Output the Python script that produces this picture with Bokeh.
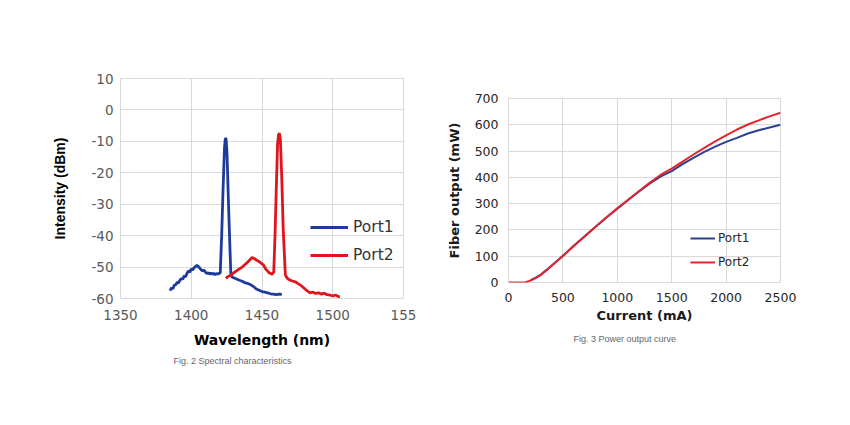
from bokeh.plotting import figure
from bokeh.layouts import row, column
from bokeh.models import Range1d, FixedTicker, Legend, LegendItem, Title
from bokeh.embed import file_html
from bokeh.resources import INLINE

# ---------------- data: spectral characteristics ----------------
p1_wl = [1385, 1386, 1387, 1388, 1389, 1390, 1391, 1392, 1393, 1394, 1395, 1396, 1397, 1398, 1399,
         1400, 1401, 1402, 1403, 1404, 1405, 1406, 1407, 1408, 1409, 1410, 1411, 1412, 1413, 1414,
         1415, 1416, 1417, 1418, 1419, 1420.5, 1421.5, 1422.5, 1423.5, 1424.1, 1424.6, 1425.3, 1426.2,
         1427.2, 1428, 1429, 1430, 1432, 1434, 1436, 1438, 1440, 1442, 1444, 1446, 1448, 1450, 1452,
         1454, 1456, 1458, 1460, 1462, 1464]
p1_db = [-57.5, -56.6, -56.9, -55.8, -55.6, -54.9, -55.0, -54.2, -53.6, -53.9, -52.8, -53.1, -52.0, -51.2, -51.6,
         -50.6, -50.9, -50.2, -49.9, -49.4, -49.8, -50.3, -50.9, -51.2, -51.0, -51.6, -52.1, -51.8, -52.2, -51.9,
         -52.3, -52.0, -52.4, -52.1, -52.2, -51.8, -40.0, -25.0, -12.0, -9.0, -9.2, -14.0, -28.0,
         -42.0, -52.5, -53.2, -53.4, -53.8, -54.2, -54.5, -55.0, -55.2, -55.6, -56.2, -57.0, -57.4, -57.8, -58.0,
         -58.2, -58.5, -58.6, -58.8, -58.6, -58.7]

p2_wl = [1424.5, 1426, 1428, 1430, 1432, 1434, 1436, 1438, 1440, 1442, 1443, 1444, 1445, 1446, 1447,
         1448, 1449, 1450, 1451, 1452, 1453, 1454, 1455, 1456, 1457, 1458.3, 1459.2, 1460.1, 1461, 1461.7,
         1462.3, 1463, 1464, 1465, 1466.5, 1467.5, 1468.5, 1470, 1472, 1474, 1476, 1478, 1480, 1482,
         1484, 1486, 1488, 1490, 1492, 1494, 1496, 1498, 1500, 1502, 1504, 1505]
p2_db = [-53.6, -53.0, -52.6, -51.8, -51.2, -50.6, -50.0, -49.2, -48.4, -47.4, -46.9, -47.2, -47.4, -47.8, -48.0,
         -48.3, -48.6, -49.0, -49.3, -50.2, -50.8, -51.3, -51.8, -52.0, -52.3, -51.6, -40.0, -25.0, -11.0, -7.8,
         -7.4, -9.5, -22.0, -38.0, -52.5, -53.3, -53.8, -54.2, -54.5, -54.8, -55.4, -56.0, -56.8, -57.6,
         -58.2, -58.0, -58.4, -58.2, -58.6, -58.3, -58.8, -58.9, -59.2, -58.9, -59.4, -59.3]

spec_xticks = [1350, 1400, 1450, 1500, 1550]
spec_xlabels = ["1350", "1400", "1450", "1500", "155"]
spec_yticks = [-60, -50, -40, -30, -20, -10, 0, 10]
spec_ylabels = ["-60", "-50", "-40", "-30", "-20", "-10", "0", "10"]

# ---------------- data: power output curve ----------------
cur = [0, 100, 150, 200, 250, 300, 350, 400, 500, 600, 700, 800, 900, 1000, 1100, 1200, 1300, 1400,
       1500, 1600, 1700, 1800, 1900, 2000, 2100, 2200, 2300, 2400, 2500]
port1_mw = [None, None, None, 8, 18, 31, 48, 66, 102, 140, 176, 212, 247, 281, 314, 346, 377, 404,
            424, 450, 474, 497, 517, 535, 550, 567, 579, 590, 600]
port2_mw = [0, 0, 0, 7, 17, 30, 47, 65, 101, 139, 175, 212, 247, 282, 315, 348, 380, 410,
            433, 460, 487, 512, 537, 560, 582, 601, 617, 632, 646]
pw_xticks = [0, 500, 1000, 1500, 2000, 2500]
pw_yticks = [0, 100, 200, 300, 400, 500, 600, 700]

cur1 = [c for c, v in zip(cur, port1_mw) if v is not None]
p1mw = [v for v in port1_mw if v is not None]

GRID = "#d9d9d9"


def style(p):
    p.xgrid.grid_line_color = GRID
    p.ygrid.grid_line_color = GRID
    p.outline_line_color = GRID
    for ax in (p.xaxis[0], p.yaxis[0]):
        ax.axis_line_color = None
        ax.major_tick_line_color = None
        ax.minor_tick_line_color = None
        ax.major_tick_out = 0
        ax.major_tick_in = 0
    p.background_fill_color = "white"
    p.border_fill_color = "white"


# ---------------- figure 1 ----------------
p = figure(width=430, height=400, output_backend="svg", toolbar_location=None,
           x_range=Range1d(1350, 1550), y_range=Range1d(-60, 10))
p.min_border_left = 120
p.min_border_right = 27
p.min_border_top = 78
p.min_border_bottom = 102
style(p)
p.xaxis.ticker = FixedTicker(ticks=spec_xticks)
p.yaxis.ticker = FixedTicker(ticks=spec_yticks)
p.xaxis.major_label_overrides = dict(zip(spec_xticks, spec_xlabels))
p.yaxis.major_label_overrides = dict(zip(spec_yticks, spec_ylabels))
for ax in (p.xaxis[0], p.yaxis[0]):
    ax.major_label_text_font = "DejaVu Sans"
    ax.major_label_text_font_size = "13.5px"
    ax.major_label_text_color = "#595959"
p.yaxis.major_label_standoff = 7
p.xaxis.major_label_standoff = 11
p.xaxis.axis_label = "Wavelength (nm)"
p.xaxis.axis_label_text_font = "DejaVu Sans"
p.xaxis.axis_label_text_font_size = "14px"
p.xaxis.axis_label_text_font_style = "bold"
p.xaxis.axis_label_text_color = "black"
p.xaxis.axis_label_standoff = 9
p.yaxis.axis_label = "Intensity (dBm)"
p.yaxis.axis_label_text_font = "Liberation Sans"
p.yaxis.axis_label_text_font_size = "14px"
p.yaxis.axis_label_text_font_style = "bold"
p.yaxis.axis_label_text_color = "black"
p.yaxis.axis_label_standoff = 20

r1 = p.line(p1_wl, p1_db, line_color="#1f3b9a", line_width=2.8)
r2 = p.line(p2_wl, p2_db, line_color="#e1141c", line_width=2.8)
leg = Legend(items=[LegendItem(label="Port1", renderers=[r1]), LegendItem(label="Port2", renderers=[r2])],
             location=(190, 33), padding=0, margin=0, spacing=8, glyph_width=38, glyph_height=20,
             label_height=20, label_standoff=5, border_line_color=None, background_fill_alpha=0,
             label_text_font="DejaVu Sans", label_text_font_size="15.5px", label_text_color="#333333")
p.add_layout(leg)
p.add_layout(Title(text="Fig. 2 Spectral characteristics", align="left", offset=53, standoff=7,
                   text_font="Liberation Sans", text_font_size="9px",
                   text_font_style="normal", text_color="#666666"), "below")

# ---------------- figure 2 ----------------
q = figure(width=420, height=400, output_backend="svg", toolbar_location=None,
           x_range=Range1d(0, 2500), y_range=Range1d(0, 700))
q.min_border_left = 78
q.min_border_right = 70
q.min_border_top = 98
q.min_border_bottom = 118
style(q)
q.xaxis.ticker = FixedTicker(ticks=pw_xticks)
q.yaxis.ticker = FixedTicker(ticks=pw_yticks)
for ax in (q.xaxis[0], q.yaxis[0]):
    ax.major_label_text_font = "DejaVu Sans"
    ax.major_label_text_font_size = "12.5px"
    ax.major_label_text_color = "#262626"
    ax.axis_label_text_font = "DejaVu Sans"
    ax.axis_label_text_font_size = "13px"
    ax.axis_label_text_font_style = "bold"
    ax.axis_label_text_color = "#1a1a1a"
q.yaxis.major_label_standoff = 10
q.xaxis.major_label_standoff = 10
q.xaxis.axis_label = "Current (mA)"
q.xaxis.axis_label_standoff = 3
q.yaxis.axis_label = "Fiber output (mW)"
q.yaxis.axis_label_standoff = 10

s1 = q.line(cur1, p1mw, line_color="#2b3f93", line_width=2)
s2 = q.line(cur, port2_mw, line_color="#e3262b", line_width=2)
leg2 = Legend(items=[LegendItem(label="Port1", renderers=[s1]), LegendItem(label="Port2", renderers=[s2])],
              location=(182, 11), padding=0, margin=0, spacing=6, glyph_width=25, glyph_height=18,
              label_height=18, label_standoff=3, border_line_color=None, background_fill_alpha=0,
              label_text_font="DejaVu Sans", label_text_font_size="12px", label_text_color="#262626")
q.add_layout(leg2)
q.add_layout(Title(text="Fig. 3 Power output curve", align="left", offset=65, standoff=12,
                   text_font="Liberation Sans", text_font_size="9px",
                   text_font_style="normal", text_color="#666666"), "below")

layout = row(column(p), column(q))
open("out.html", "w").write(file_html(layout, INLINE))
